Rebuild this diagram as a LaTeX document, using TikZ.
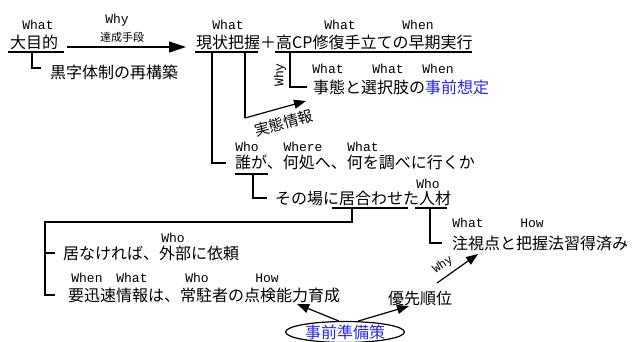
\documentclass[tikz,border=0pt]{standalone}
\usepackage{fontspec}
\setmainfont{Liberation Serif}
\newfontfamily\jpf{Noto Sans CJK JP}
\newfontfamily\labf{Liberation Mono}
\usetikzlibrary{arrows.meta,shapes.geometric}
\definecolor{jblue}{RGB}{40,40,225}
\tikzset{
  jt/.style={font=\jpf\fontsize{16}{18}\selectfont, inner sep=0pt, anchor=west},
  jts/.style={font=\jpf\fontsize{11}{13}\selectfont, inner sep=0pt},
  lb/.style={font=\labf\fontsize{13}{14}\selectfont, inner sep=0pt},
  ln/.style={line width=1.2pt},
  bigarr/.style={line width=1.2pt, -{Triangle[length=17pt,width=11pt]}},
  smarr/.style={line width=1.2pt, -{Triangle[length=12pt,width=9pt]}},
}
\begin{document}
\begin{tikzpicture}[x=1pt,y=-1pt]
\useasboundingbox (0,0) rectangle (637,341);

% --- top row ---
\node[jt] (dai) at (10,42.5) {大目的};
\node[lb] (w1) at (38,25) {What};
\coordinate (a1s) at (67,47);
\coordinate (a1e) at (186,47);
\draw[bigarr] (a1s) -- (a1e);
\node[lb] (why1) at (117,20) {Why};
\node[jts] (tas) at (122,37) {達成手段};
\draw[ln] (8,52) -- (64,52);
\node[jt] (kuro) at (50,72) {黒字体制の再構築};
\draw[ln] (32,52) -- (32,68) -- (41,68);

\node[jt] (gen) at (196,42) {現状把握＋高CP修復手立ての早期実行};
\node[lb] (w2) at (228,25) {What};
\node[lb] (w3) at (340,25) {What};
\node[lb] (wh3) at (418,25) {When};
\draw[ln] (195,52) -- (258,52);
\draw[ln] (275,52) -- (472,52);

% --- Why branch ---
\node[jt] (jitai) at (313,87) {事態と選択肢の\textcolor{jblue}{事前想定}};
\node[lb] (w4) at (328,69) {What};
\node[lb] (w5) at (388,69) {What};
\node[lb] (wh5) at (438,69) {When};
\draw[ln] (290,52) -- (290,87) -- (307,87);
\node[lb, rotate=90] (why2) at (280,75) {Why};

% --- 実態情報 arrow ---
\coordinate (jc) at (245,118);
\coordinate (jt2) at (306,101);
\draw[ln] (245,52) -- (jc);
\draw[smarr] (jc) -- (jt2);
\node[jts, font=\jpf\fontsize{15}{17}\selectfont, rotate=15] (jtj) at (284,123) {実態情報};

% --- who/where ---
\node[jt] (dare) at (235,162) {誰が、何処へ、何を調べに行くか};
\node[lb] (who1) at (247,147) {Who};
\node[lb] (whr1) at (303,147) {Where};
\node[lb] (wt6) at (363,147) {What};
\draw[ln] (212,52) -- (212,163) -- (226,163);
\draw[ln] (235,174) -- (268,174);

\node[jt] (sono) at (275,198) {その場に居合わせた人材};
\node[lb] (who2) at (428,184) {Who};
\draw[ln] (253,174) -- (253,198) -- (267,198);
\draw[ln] (332,208) -- (408,208);
\draw[ln] (415,208) -- (447,208);

% --- right branch ---
\node[jt] (chu) at (452,243) {注視点と把握法習得済み};
\node[lb] (wt7) at (468,223) {What};
\node[lb] (how1) at (532,223) {How};
\draw[ln] (430,208) -- (430,243) -- (442,243);

% --- left branch ---
\draw[ln] (352,208) -- (352,222) -- (45,222) -- (45,295) -- (55,295);
\draw[ln] (45,253) -- (55,253);
\node[jt] (inak) at (63,253) {居なければ、外部に依頼};
\node[lb] (who3) at (173,238) {Who};
\node[jt] (you) at (68,295) {要迅速情報は、常駐者の点検能力育成};
\node[lb] (whn) at (87,278) {When};
\node[lb] (wt8) at (132,278) {What};
\node[lb] (who4) at (197,278) {Who};
\node[lb] (how2) at (267,278) {How};

% --- bottom ---
\node[draw, ellipse, line width=1.2pt, inner xsep=2pt, inner ysep=0pt,
      minimum width=100pt, minimum height=21pt,
      font=\jpf\fontsize{16}{18}\selectfont, text=jblue] (jizen) at (345,332) {事前準備策};
\node[jt] (yusen) at (388,298) {優先順位};
\coordinate (t1) at (297,304);
\coordinate (t2) at (409,306);
\draw[smarr] (jizen.120) -- (t1);
\draw[smarr] (jizen.40) -- (t2);
\coordinate (ws) at (437,283);
\coordinate (we) at (478,254);
\draw[smarr] (ws) -- node[lb, sloped, above=5pt, pos=0.3, font=\labf\fontsize{12}{13}\selectfont] (why3) {Why} (we);
\end{tikzpicture}
\end{document}
